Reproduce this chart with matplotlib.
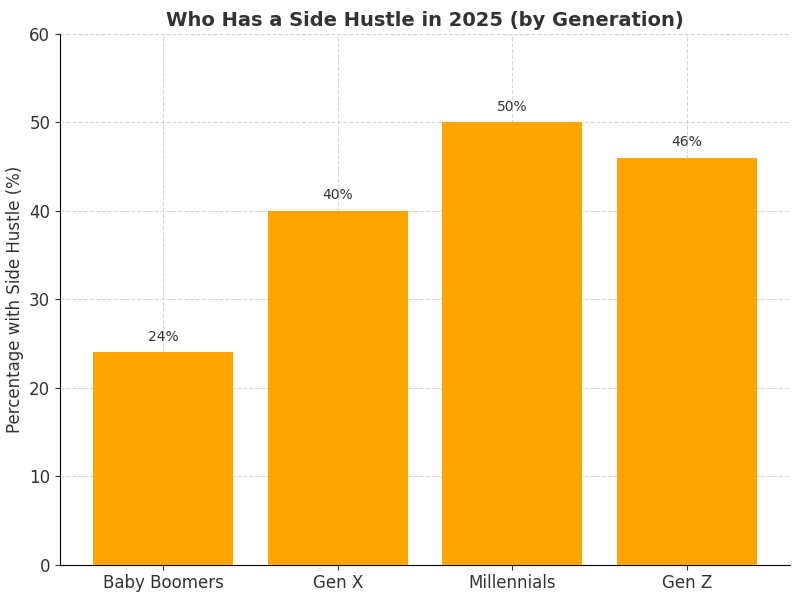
import matplotlib.pyplot as plt

categories = ["Baby Boomers", "Gen X", "Millennials", "Gen Z"]
values = [24, 40, 50, 46]

fig, ax = plt.subplots(figsize=(8, 5.97), dpi=100)
bars = ax.bar(categories, values, color="orange", zorder=3)
for b, v in zip(bars, values):
    ax.text(b.get_x() + b.get_width()/2, v + 1, f"{v}%", ha="center", va="bottom", fontsize=10, color="#333333")
ax.set_ylim(0, 60)
ax.set_ylabel("Percentage with Side Hustle (%)", fontsize=12, color="#333333")
ax.set_title("Who Has a Side Hustle in 2025 (by Generation)", fontsize=14, fontweight="bold", color="#333333")
ax.grid(True, linestyle="--", color="#cccccc", alpha=0.8, zorder=0)
ax.tick_params(labelsize=12, colors="#333333")
for s in ["top", "right"]:
    ax.spines[s].set_visible(False)
fig.subplots_adjust(left=0.075, right=0.9875, top=0.943, bottom=0.054)
plt.savefig("out.png")
